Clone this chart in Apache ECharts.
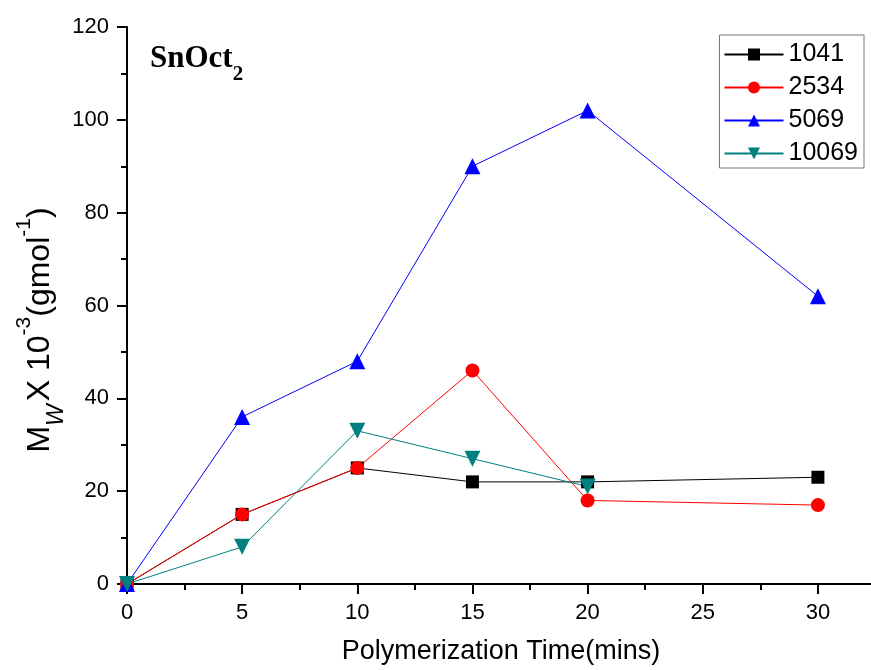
<!DOCTYPE html>
<html>
<head>
<meta charset="utf-8">
<script src="https://cdn.jsdelivr.net/npm/echarts@6/dist/echarts.min.js"></script>
<style>
  html, body { margin: 0; padding: 0; background: #ffffff; }
  #chart { width: 871px; height: 670px; }
</style>
</head>
<body>
<div id="chart"></div>
<script>
// Polymerization time in minutes
const times = [0, 5, 10, 15, 20, 30];

// Mw x 10^-3 (g/mol) for each monomer/catalyst ratio
const mw1041 = [0, 15, 25, 22, 22, 23];
const mw2534 = [0, 15, 25, 46, 18, 17];
const mw5069 = [0, 36, 48, 90, 102, 62];
const mw10069 = [0, 8, 33, 27, 21, null];

const seriesNames = ['1041', '2534', '5069', '10069'];

const font = 'Liberation Sans, Arial, sans-serif';
const serif = 'Liberation Serif, Times New Roman, serif';

function pairs(values) {
  return times.map((t, i) => [t, values[i]]).filter(p => p[1] !== null);
}

function makeSeries(name, values, color, symbol, size) {
  return {
    name: name,
    type: 'line',
    data: pairs(values),
    symbol: symbol,
    symbolSize: size,
    showSymbol: true,
    lineStyle: { color: color, width: 1 },
    itemStyle: { color: color, borderWidth: 0 },
    emphasis: { disabled: true },
    z: 3
  };
}

const chart = echarts.init(document.getElementById('chart'));

chart.setOption({
  animation: false,
  backgroundColor: '#ffffff',
  // the frame runs past the right edge of the canvas
  grid: { left: 127, top: 27, bottom: 86, width: 760, containLabel: false, outerBoundsMode: 'none' },
  legend: {
    orient: 'vertical',
    right: 7,
    top: 35,
    itemWidth: 59,
    itemHeight: 15,
    itemGap: 8,
    padding: [7, 6, 2, 4],
    borderColor: '#777777',
    borderWidth: 1,
    textStyle: { fontFamily: font, fontSize: 25, color: '#000' },
    data: seriesNames
  },
  xAxis: [{
    type: 'value',
    min: 0,
    max: 33,
    interval: 5,
    name: 'Polymerization Time(mins)',
    nameLocation: 'middle',
    nameGap: 54,
    nameTextStyle: { fontFamily: font, fontSize: 27, color: '#000', padding: [0, 12, 0, 0] },
    axisLine: { show: true, onZero: false, lineStyle: { color: '#000', width: 2 } },
    axisTick: { show: true, length: 10, lineStyle: { color: '#000', width: 2 } },
    minorTick: { show: true, splitNumber: 2, length: 6, lineStyle: { color: '#000', width: 2 } },
    axisLabel: {
      fontFamily: font, fontSize: 22, color: '#000', margin: 18,
      formatter: v => (v <= 30 ? String(v) : '')
    },
    splitLine: { show: false }
  }, {
    type: 'value',
    position: 'top',
    min: 0,
    max: 33,
    axisLine: { show: true, lineStyle: { color: '#000', width: 2 } },
    axisTick: { show: false },
    axisLabel: { show: false },
    splitLine: { show: false }
  }],
  yAxis: {
    type: 'value',
    min: 0,
    max: 120,
    interval: 20,
    axisLine: { show: true, lineStyle: { color: '#000', width: 2 } },
    axisTick: { show: true, length: 10, lineStyle: { color: '#000', width: 2 } },
    minorTick: { show: true, splitNumber: 2, length: 6, lineStyle: { color: '#000', width: 2 } },
    axisLabel: { fontFamily: font, fontSize: 22, color: '#000', margin: 18 },
    splitLine: { show: false }
  },
  graphic: [{
    // catalyst label in the upper-left corner of the plot
    type: 'text',
    left: 150,
    top: 43,
    style: {
      text: '{a|SnOct}{b|2}',
      rich: {
        a: { fontFamily: serif, fontWeight: 'bold', fontSize: 31, fill: '#000', lineHeight: 38, verticalAlign: 'middle' },
        b: { fontFamily: serif, fontWeight: 'bold', fontSize: 21, fill: '#000', lineHeight: 38, verticalAlign: 'bottom', padding: [0, 0, -8, 0] }
      }
    }
  }, {
    // y-axis title, rotated to read bottom-up
    type: 'text',
    x: 40,
    y: 330,
    rotation: Math.PI / 2,
    style: {
      text: '{m|M}{w|W}{m|X 10}{sup|-3}{m|(gmol}{sup|-1}{m|)}',
      align: 'center',
      verticalAlign: 'middle',
      rich: {
        m: { fontFamily: font, fontSize: 32, fill: '#000', lineHeight: 40, verticalAlign: 'middle' },
        w: { fontFamily: font, fontSize: 23, fontStyle: 'italic', fill: '#000', lineHeight: 40, verticalAlign: 'bottom', padding: [0, 3, -8, 0] },
        sup: { fontFamily: font, fontSize: 21, fill: '#000', lineHeight: 40, verticalAlign: 'top', padding: [-6, 0, 0, 0] }
      }
    }
  }],
  series: [
    makeSeries('1041', mw1041, '#000000', 'rect', 13),
    makeSeries('2534', mw2534, '#ff0000', 'circle', 14),
    makeSeries('5069', mw5069, '#0000ff', 'triangle', 16),
    makeSeries('10069', mw10069, '#008080', 'path://M0,0 L10,0 L5,9 Z', 16)
  ]
});
</script>
</body>
</html>
